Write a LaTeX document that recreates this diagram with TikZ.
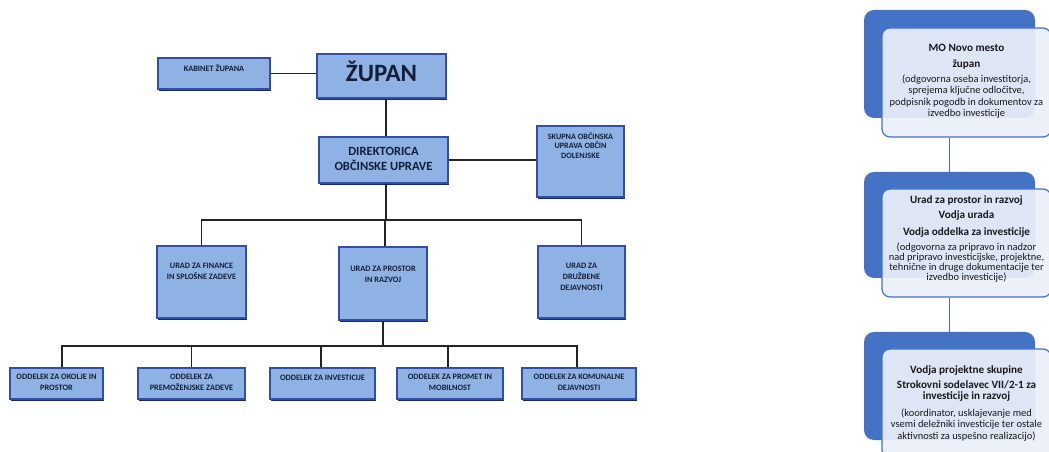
\documentclass[tikz,border=0pt]{standalone}
\usepackage{fontspec}
\setmainfont{Carlito}
\usetikzlibrary{shadows}
\definecolor{orgfill}{RGB}{142,178,227}
\definecolor{orgborder}{RGB}{50,78,168}
\definecolor{orgshadow}{RGB}{30,42,88}
\definecolor{orgtext}{RGB}{22,30,55}
\definecolor{connc}{RGB}{35,35,35}
\definecolor{rblue}{RGB}{68,114,196}
\definecolor{rfront}{RGB}{234,239,249}
\definecolor{rtext}{RGB}{25,25,25}
\newcommand\bl[1]{{\bfseries\fontsize{11.2}{12}\selectfont #1}}
\begin{document}
\begin{tikzpicture}[x=1bp,y=-1bp,
  orgbox/.style={draw=orgborder, line width=1.1bp, fill=orgfill, inner sep=0pt,
    drop shadow={shadow xshift=1.4bp, shadow yshift=-1.6bp, fill=orgshadow, opacity=1}},
  smalltxt/.style={font=\bfseries\fontsize{8.3}{11}\selectfont, text=orgtext, align=center, inner sep=0pt},
  conn/.style={draw=connc, line width=1.7bp},
  backbox/.style={fill=rblue, draw=none, rounded corners=10bp, inner sep=0pt},
  frontbox/.style={fill=rfront, fill opacity=0.93, draw=rblue, line width=1.2bp, rounded corners=8bp, inner sep=0pt},
  rconn/.style={draw=rblue, line width=1.5bp},
  rtxt/.style={font=\fontsize{10.5}{11.5}\selectfont, text=rtext, align=center, inner sep=0pt}
]
\clip (0,0) rectangle (1049,452);
\fill[white] (0,0) rectangle (1049,452);

% ---------- left organisation chart ----------
\node[orgbox, minimum width=112bp, minimum height=31bp] (kab) at (214,73.5) {};
\node[smalltxt] (kabt) at (214,68.5) {KABINET ŽUPANA};

\node[orgbox, minimum width=129bp, minimum height=44bp] (zup) at (381.5,76) {};
\node[font=\bfseries\fontsize{25}{30}\selectfont, text=orgtext, inner sep=0pt, anchor=base] (zupt) at (381.5,82) {ŽUPAN};

\node[orgbox, minimum width=129bp, minimum height=46bp] (dir) at (383.5,160) {};
\node[font=\bfseries\fontsize{12.6}{15}\selectfont, text=orgtext, align=center, inner sep=0pt] (dirt) at (383.5,158.5) {DIREKTORICA\\OBČINSKE UPRAVE};

\node[orgbox, minimum width=87bp, minimum height=71bp] (sk) at (580.5,161.5) {};
\node[smalltxt, font=\bfseries\fontsize{8.2}{9.6}\selectfont] (skt) at (580.5,145.5) {SKUPNA OBČINSKA\\UPRAVA OBČIN\\DOLENJSKE};

\node[orgbox, minimum width=89bp, minimum height=72bp] (fin) at (201.5,282) {};
\node[smalltxt] (fint) at (201.5,271.5) {URAD ZA FINANCE\\IN SPLOŠNE ZADEVE};

\node[orgbox, minimum width=88bp, minimum height=73bp] (pro) at (383,283.5) {};
\node[smalltxt] (prot) at (383,274) {URAD ZA PROSTOR\\IN RAZVOJ};

\node[orgbox, minimum width=87bp, minimum height=72bp] (dru) at (581.5,282) {};
\node[smalltxt] (drut) at (581.5,277) {URAD ZA\\DRUŽBENE\\DEJAVNOSTI};

\node[orgbox, minimum width=93bp, minimum height=31bp] (b1) at (56.5,383.5) {};
\node[smalltxt] (b1t) at (56.5,382.5) {ODDELEK ZA OKOLJE IN\\PROSTOR};
\node[orgbox, minimum width=107bp, minimum height=31bp] (b2) at (191.5,383.5) {};
\node[smalltxt] (b2t) at (191.5,382.5) {ODDELEK ZA\\PREMOŽENJSKE ZADEVE};
\node[orgbox, minimum width=105bp, minimum height=31bp] (b3) at (322.5,383.5) {};
\node[smalltxt] (b3t) at (322.5,378) {ODDELEK ZA INVESTICIJE};
\node[orgbox, minimum width=106bp, minimum height=31bp] (b4) at (450,383.5) {};
\node[smalltxt] (b4t) at (450,382.5) {ODDELEK ZA PROMET IN\\MOBILNOST};
\node[orgbox, minimum width=114bp, minimum height=31bp] (b5) at (579,383.5) {};
\node[smalltxt] (b5t) at (579,382.5) {ODDELEK ZA KOMUNALNE\\DEJAVNOSTI};

% connectors
\draw[conn] (kab.east) -- (kab.east -| zup.west);
\draw[conn] ([xshift=2.5bp]dir.north) -- ([xshift=2.5bp]dir.north |- zup.south);
\draw[conn] (dir.east) -- (dir.east -| sk.west);
\coordinate (j1) at (386,220);
\draw[conn] ([xshift=2.5bp]dir.south) -- (j1);
\draw[conn] (fin.north) |- (j1) -| (dru.north);
\draw[conn] ([xshift=2bp]pro.north) -- ([xshift=2bp]pro.north |- j1);
\coordinate (j2) at (383,346);
\draw[conn] (pro.south) -- (j2);
\draw[conn] ([xshift=5.5bp]b1.north) |- (j2) -| ([xshift=-2bp]b5.north);
\draw[conn] (b2.north) -- (b2.north |- j2);
\draw[conn] ([xshift=-1.5bp]b3.north) -- ([xshift=-1.5bp]b3.north |- j2);
\draw[conn] ([xshift=-2bp]b4.north) -- ([xshift=-2bp]b4.north |- j2);

% ---------- right chain ----------
\node[backbox, minimum width=171bp, minimum height=108bp] (r1b) at (949.5,64) {};
\node[frontbox, minimum width=169bp, minimum height=109bp] (r1f) at (966.5,82.5) {};
\node[rtxt, anchor=north] (r1t) at (966.5,44) {\bl{MO Novo mesto}\\[4.8bp]\bl{župan}\\[3.3bp](odgovorna oseba investitorja,\\sprejema ključne odločitve,\\podpisnik pogodb in dokumentov za\\izvedbo investicije};

\node[backbox, minimum width=171bp, minimum height=106bp] (r2b) at (949.5,225) {};
\node[frontbox, minimum width=169bp, minimum height=108bp] (r2f) at (966.5,243) {};
\node[rtxt, anchor=north] (r2t) at (966.5,195.5) {\bl{Urad za prostor in razvoj}\\[4bp]\bl{Vodja urada}\\[4.8bp]\bl{Vodja oddelka za investicije}\\[4.3bp](odgovorna za pripravo in nadzor\\[-1.5bp]nad pripravo investicijske, projektne,\\[-1.5bp]tehnične in druge dokumentacije ter\\[-1.5bp]izvedbo investicije)};

\node[backbox, minimum width=171bp, minimum height=108bp] (r3b) at (949.5,386) {};
\node[frontbox, minimum width=169bp, minimum height=109bp] (r3f) at (966.5,403.5) {};
\node[rtxt, anchor=north] (r3t) at (966.5,365) {\bl{Vodja projektne skupine}\\[4bp]\bl{Strokovni sodelavec VII/2-1 za}\\\bl{investicije in razvoj}\\[5bp](koordinator, usklajevanje med\\vsemi deležniki investicije ter ostale\\aktivnosti za uspešno realizacijo)};

\draw[rconn] (r1f.south -| r2b.north) -- (r2b.north);
\draw[rconn] (r2f.south -| r3b.north) -- (r3b.north);
\end{tikzpicture}
\end{document}
